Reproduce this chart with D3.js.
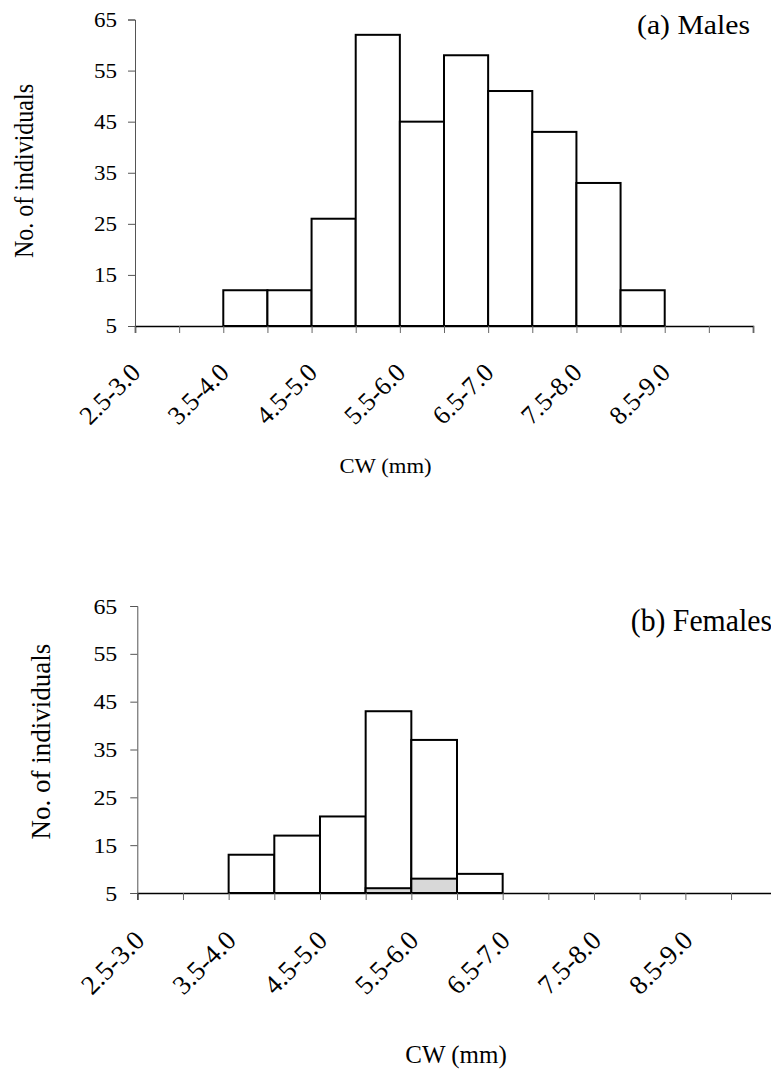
<!DOCTYPE html>
<html>
<head>
<meta charset="utf-8">
<script src="https://cdn.jsdelivr.net/npm/d3@7"></script>
<style>
body { margin: 0; background: #fff; }
svg { display: block; }
text { font-family: "Liberation Serif", "Times New Roman", serif; fill: #000; }
</style>
</head>
<body>
<div id="canvas"></div>
<script>
// ----------------------------------------------------------
// DATA -----------------------------------------------------
// ----------------------------------------------------------
var categories = ["2.5-3.0", "3.0-3.5", "3.5-4.0", "4.0-4.5", "4.5-5.0", "5.0-5.5", "5.5-6.0",
  "6.0-6.5", "6.5-7.0", "7.0-7.5", "7.5-8.0", "8.0-8.5", "8.5-9.0", "9.0-9.5"];
var tick_labels = ["2.5-3.0", "3.5-4.0", "4.5-5.0", "5.5-6.0", "6.5-7.0", "7.5-8.0", "8.5-9.0"];
var y_ticks = [5, 15, 25, 35, 45, 55, 65];
var male_counts = [0, 0, 12, 12, 26, 62, 45, 58, 51, 43, 33, 12, 0, 0];
var female_counts = [0, 0, 13, 17, 21, 43, 37, 9, 0, 0, 0, 0, 0, 0];
var female_grey = [0, 0, 0, 0, 0, 6, 8, 0, 0, 0, 0, 0, 0, 0];

// ----------------------------------------------------------
// LAYOUT ---------------------------------------------------
// ----------------------------------------------------------
var panels = [
{
  counts: male_counts, grey: null,
  x0: 135, x1: 753, y_top: 19.5, y_bottom: 326,
  title: "(a) Males", title_x: 750, title_y: 34, title_size: 27, title_sx: 1.1,
  ylabel_x: 33, ylabel_y: 171, ylabel_size: 24, ylabel_sx: 1.1,
  ytick_size: 20, ytick_sx: 1.15, ytick_gap: 18,
  xtick_size: 26, xtick_dx: -15, xtick_dy: 48,
  xlabel_x: 385.5, xlabel_y: 473, xlabel_size: 21, xlabel_sx: 1.08
},
{
  counts: female_counts, grey: female_grey,
  x0: 137.3, x1: 776.7, y_top: 606, y_bottom: 893,
  title: "(b) Females", title_x: 772, title_y: 631, title_size: 32, title_sx: 0.93,
  ylabel_x: 50, ylabel_y: 741.5, ylabel_size: 27, ylabel_sx: 1,
  ytick_size: 21, ytick_sx: 1.14, ytick_gap: 20,
  xtick_size: 27, xtick_dx: -14, xtick_dy: 49,
  xlabel_x: 456, xlabel_y: 1063, xlabel_size: 26, xlabel_sx: 0.96
}
];

var container = d3.select("#canvas").append("svg")
.attr("width", 771)
.attr("height", 1072)
.style("background-color", "#fff");

// ----------------------------------------------------------
// GFX ------------------------------------------------------
// ----------------------------------------------------------
panels.forEach(function(p) {
  var g = container.append("g");

  var xScale = d3.scaleBand()
  .domain(categories)
  .range([p.x0, p.x1])
  .padding(0);
  // bin edges for the tick marks
  var xEdge = d3.scaleLinear()
  .domain([0, categories.length])
  .range([p.x0, p.x1]);
  var yScale = d3.scaleLinear()
  .domain([5, 65])
  .range([p.y_bottom, p.y_top]);

  // bars
  g.selectAll(".bar")
  .data(p.counts.map(function(v, i) { return {c: categories[i], v: v}; })
    .filter(function(d) { return d.v > 5; }))
  .enter().append("rect")
  .attr("class", "bar")
  .attr("x", function(d) { return xScale(d.c); })
  .attr("y", function(d) { return yScale(d.v); })
  .attr("width", xScale.bandwidth())
  .attr("height", function(d) { return yScale(5) - yScale(d.v); })
  .style("fill", "#fff").style("stroke", "#000").style("stroke-width", 2);

  if (p.grey) {
    g.selectAll(".bar_grey")
    .data(p.grey.map(function(v, i) { return {c: categories[i], v: v}; })
      .filter(function(d) { return d.v > 5; }))
    .enter().append("rect")
    .attr("class", "bar_grey")
    .attr("x", function(d) { return xScale(d.c); })
    .attr("y", function(d) { return yScale(d.v); })
    .attr("width", xScale.bandwidth())
    .attr("height", function(d) { return yScale(5) - yScale(d.v); })
    .style("fill", "#d8d8d8").style("stroke", "#000").style("stroke-width", 2);
  }

  // x axis
  var xAxis = d3.axisBottom(xEdge)
  .tickValues(d3.range(categories.length + 1))
  .tickSize(7)
  .tickFormat("");
  var gx = g.append("g")
  .attr("transform", "translate(0," + p.y_bottom + ")")
  .call(xAxis);
  gx.select(".domain").attr("stroke", "#000").attr("stroke-width", 1.5);
  gx.selectAll(".tick line").attr("stroke", "#666").attr("stroke-width", 1);

  // x tick labels, every second bin
  g.selectAll(".xlab")
  .data(tick_labels)
  .enter().append("text")
  .attr("class", "xlab")
  .attr("text-anchor", "end")
  .attr("transform", function(d) {
    var cx = xScale(d) + xScale.bandwidth() / 2 + p.xtick_dx;
    return "translate(" + cx + "," + (p.y_bottom + p.xtick_dy) + ") rotate(-45)";
  })
  .style("font-size", p.xtick_size + "px")
  .text(function(d) { return d; });

  // y axis
  var yAxis = d3.axisLeft(yScale)
  .tickValues(y_ticks)
  .tickSize(7)
  .tickPadding(0);
  var gy = g.append("g")
  .attr("transform", "translate(" + p.x0 + ",0)")
  .call(yAxis);
  gy.select(".domain").attr("stroke", "#555").attr("stroke-width", 1);
  gy.selectAll(".tick line").attr("stroke", "#555");
  gy.selectAll(".tick text")
  .attr("font-family", null)
  .attr("font-size", null)
  .style("font-size", p.ytick_size + "px")
  .attr("x", -p.ytick_gap / p.ytick_sx)
  .attr("dy", "0.34em")
  .attr("transform", "scale(" + p.ytick_sx + ",1)");

  // y axis title
  g.append("text")
  .attr("text-anchor", "middle")
  .attr("transform", "translate(" + p.ylabel_x + "," + p.ylabel_y + ") scale(" + p.ylabel_sx + ",1) rotate(-90)")
  .style("font-size", p.ylabel_size + "px")
  .text("No. of individuals");

  // x axis title
  g.append("text")
  .attr("text-anchor", "middle")
  .attr("transform", "translate(" + p.xlabel_x + "," + p.xlabel_y + ") scale(" + p.xlabel_sx + ",1)")
  .style("font-size", p.xlabel_size + "px")
  .text("CW (mm)");

  // panel title
  g.append("text")
  .attr("text-anchor", "end")
  .attr("transform", "translate(" + p.title_x + "," + p.title_y + ") scale(" + p.title_sx + ",1)")
  .style("font-size", p.title_size + "px")
  .text(p.title);
});
</script>
</body>
</html>
